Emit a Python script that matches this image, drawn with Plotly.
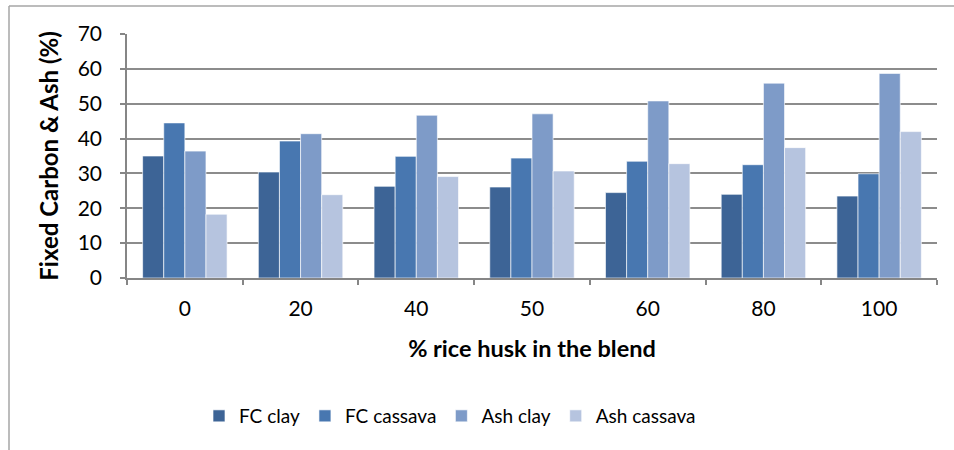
import plotly.graph_objects as go

categories = ["0", "20", "40", "50", "60", "80", "100"]
fc_clay = [35.0, 30.4, 26.3, 26.1, 24.5, 24.0, 23.5]
fc_cassava = [44.5, 39.3, 34.9, 34.4, 33.5, 32.5, 29.9]
ash_clay = [36.4, 41.4, 46.7, 47.1, 50.8, 55.9, 58.7]
ash_cassava = [18.3, 23.9, 29.1, 30.7, 32.8, 37.4, 42.0]

series = [
    ("FC clay", fc_clay, "#3D6496"),
    ("FC cassava", fc_cassava, "#4877B0"),
    ("Ash clay", ash_clay, "#7E9BC8"),
    ("Ash cassava", ash_cassava, "#B6C4DF"),
]

FONT = "Lato, 'Open Sans', sans-serif"
fig = go.Figure()
for name, vals, col in series:
    fig.add_trace(go.Bar(
        x=categories, y=vals, name=name,
        marker=dict(color=col, line=dict(color="rgba(255,255,255,0.8)", width=0.8)),
    ))

W, H = 954, 450
L, R, T, B = 127, 17, 34, 172
pw, ph = W - L - R, H - T - B

def px(x):
    return (x - L) / pw

def py(y):
    return (H - B - y) / ph

fig.update_layout(
    width=W, height=H,
    margin=dict(l=L, r=R, t=T, b=B),
    paper_bgcolor="white", plot_bgcolor="white",
    barmode="group", bargap=0.27, bargroupgap=0,
    font=dict(family=FONT, size=20, color="#000000"),
    showlegend=True,
    legend=dict(orientation="h", x=px(450), xanchor="center", y=py(416), yanchor="middle",
                font=dict(size=19), traceorder="normal", itemwidth=30),
    xaxis=dict(
        type="category", tickson="boundaries", ticks="outside", ticklen=5,
        tickcolor="#868686", tickwidth=1.5,
        showline=True, linecolor="#868686", linewidth=1.5,
        showgrid=False, tickfont=dict(size=21), ticklabelstandoff=11,
        title=dict(text="<b>% rice husk in the blend</b>", font=dict(size=23.5), standoff=22),
    ),
    yaxis=dict(
        range=[0, 70], dtick=10, ticks="outside", ticklen=5,
        tickcolor="#868686", tickwidth=1.5,
        showline=True, linecolor="#868686", linewidth=1.5,
        showgrid=True, gridcolor="#8C8C8C", gridwidth=1.5,
        zeroline=False, tickfont=dict(size=21), ticklabelstandoff=14,
        title=dict(text="<b>Fixed Carbon & Ash (%)</b>", font=dict(size=24), standoff=12),
    ),
    shapes=[
        dict(type="line", xref="paper", yref="paper", x0=px(9), x1=px(954), y0=py(6), y1=py(6),
             line=dict(color="#A6A6A6", width=1.5)),
        dict(type="line", xref="paper", yref="paper", x0=px(9), x1=px(9), y0=py(6), y1=py(450),
             line=dict(color="#A6A6A6", width=1.5)),
    ],
)

fig.write_html("out.html", config={"displayModeBar": False},
               post_script="document.body.style.margin='0';")
